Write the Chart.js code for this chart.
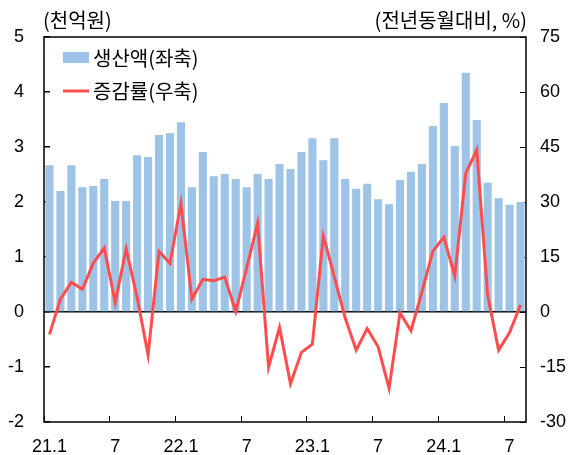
<!DOCTYPE html>
<html>
<head>
<meta charset="utf-8">
<script src="https://cdn.jsdelivr.net/npm/chart.js@4"></script>
<style>
html, body { margin: 0; padding: 0; background: #fff; }
</style>
</head>
<body>
<canvas id="chart" width="571" height="455"></canvas>
<script>
const months = ['21.1','21.2','21.3','21.4','21.5','21.6','21.7','21.8','21.9','21.10','21.11','21.12',
                '22.1','22.2','22.3','22.4','22.5','22.6','22.7','22.8','22.9','22.10','22.11','22.12',
                '23.1','23.2','23.3','23.4','23.5','23.6','23.7','23.8','23.9','23.10','23.11','23.12',
                '24.1','24.2','24.3','24.4','24.5','24.6','24.7','24.8'];
// 생산액 (천억원)
const output = [2.67, 2.20, 2.67, 2.27, 2.29, 2.42, 2.02, 2.02, 2.85, 2.82, 3.22, 3.25,
                3.45, 2.27, 2.91, 2.47, 2.51, 2.42, 2.27, 2.51, 2.42, 2.69, 2.60, 2.91,
                3.16, 2.76, 3.16, 2.42, 2.24, 2.33, 2.05, 1.96, 2.40, 2.55, 2.69, 3.38,
                3.80, 3.02, 4.35, 3.49, 2.35, 2.07, 1.95, 2.00];
// 증감률 (전년동월대비, %)
const growth = [-6.1, 3.5, 8.1, 6.2, 13.3, 17.5, 2.6, 17.2, 4.0, -11.7, 16.5, 13.3,
                29.6, 3.5, 8.9, 8.5, 9.5, 0.1, 12.0, 24.2, -15.1, -4.2, -19.6, -11.0,
                -8.8, 20.8, 9.6, -1.7, -10.4, -4.5, -9.5, -20.8, -0.2, -5.1, 5.5, 16.6,
                20.4, 9.8, 37.8, 44.2, 4.6, -10.4, -5.6, 1.9];

const leftUnit = '(천억원)';
const rightUnit = '(전년동월대비, %)';

const barColor = '#9DC3E6';
const lineColor = '#FF4D4D';
const tickFont = { family: "'Liberation Sans', Arial, sans-serif", size: 18 };
const krFont = "'Noto Sans CJK KR', sans-serif";

// frame around plot, unit labels and the legend inside the plot
const framePlugin = {
    id: 'frame',
    afterDraw(chart) {
        const { ctx, chartArea: a } = chart;
        const ds = chart.data.datasets;
        ctx.save();
        ctx.strokeStyle = '#000';
        ctx.lineWidth = 1.5;
        ctx.strokeRect(a.left, a.top, a.right - a.left, a.bottom - a.top);

        ctx.fillStyle = '#000';
        ctx.font = '20px ' + krFont;
        ctx.textBaseline = 'middle';
        ctx.textAlign = 'left';
        ctx.fillText(leftUnit, a.left - 1, 20);
        ctx.textAlign = 'right';
        ctx.fillText(rightUnit, a.right + 1, 20);

        // legend
        const lx = a.left + 19;
        ctx.textAlign = 'left';
        ctx.fillStyle = ds[0].backgroundColor;
        ctx.fillRect(lx, a.top + 15, 26, 11);
        ctx.strokeStyle = ds[1].borderColor;
        ctx.lineWidth = 3;
        ctx.beginPath();
        ctx.moveTo(lx, a.top + 54);
        ctx.lineTo(lx + 26, a.top + 54);
        ctx.stroke();
        ctx.fillStyle = '#000';
        ctx.fillText(ds[0].label, lx + 30, a.top + 21);
        ctx.fillText(ds[1].label, lx + 30, a.top + 54);
        ctx.restore();
    }
};

Chart.defaults.font.family = krFont;
Chart.defaults.color = '#000';

function fixY(width) {
    return s => {
        s.width = width;
        s.paddingTop = 0;
        s.paddingBottom = 0;
    };
}

new Chart(document.getElementById('chart'), {
    type: 'bar',
    data: {
        labels: months,
        datasets: [{
            label: '생산액(좌축)',
            data: output,
            backgroundColor: barColor,
            barPercentage: 0.74,
            categoryPercentage: 1,
            yAxisID: 'y',
            order: 2
        }, {
            type: 'line',
            label: '증감률(우축)',
            data: growth,
            borderColor: lineColor,
            backgroundColor: lineColor,
            borderWidth: 3,
            pointRadius: 0,
            tension: 0,
            yAxisID: 'y1',
            order: 1
        }]
    },
    options: {
        responsive: false,
        animation: false,
        devicePixelRatio: 1,
        layout: { padding: { top: 37, left: 0, right: 0, bottom: 0 } },
        plugins: {
            tooltip: { enabled: false },
            legend: { display: false }
        },
        scales: {
            x: {
                afterFit(s) { s.height = 33; s.paddingLeft = 0; s.paddingRight = 0; },
                grid: {
                    offset: true,
                    drawOnChartArea: false,
                    tickLength: -6,
                    tickColor: c => (c.index % 6 === 0 ? '#000' : 'rgba(0,0,0,0)')
                },
                border: { display: false },
                ticks: {
                    autoSkip: false,
                    maxRotation: 0,
                    padding: 20,
                    font: tickFont,
                    callback(v, i) {
                        const m = months[i].split('.')[1];
                        if (m === '1') return months[i];
                        if (m === '7') return '7';
                        return '';
                    }
                }
            },
            y: {
                position: 'left',
                min: -2,
                max: 5,
                afterFit: fixY(44),
                grid: {
                    color: c => (c.tick.value === 0 ? '#000' : 'rgba(0,0,0,0)'),
                    lineWidth: 1.5,
                    tickLength: -6,
                    tickColor: '#000'
                },
                border: { display: false },
                ticks: { stepSize: 1, padding: 26, font: tickFont }
            },
            y1: {
                position: 'right',
                min: -30,
                max: 75,
                afterFit: fixY(45),
                grid: {
                    drawOnChartArea: false,
                    tickLength: -6,
                    tickColor: '#000'
                },
                border: { display: false },
                ticks: { stepSize: 15, padding: 20, font: tickFont }
            }
        }
    },
    plugins: [framePlugin]
});
</script>
</body>
</html>
